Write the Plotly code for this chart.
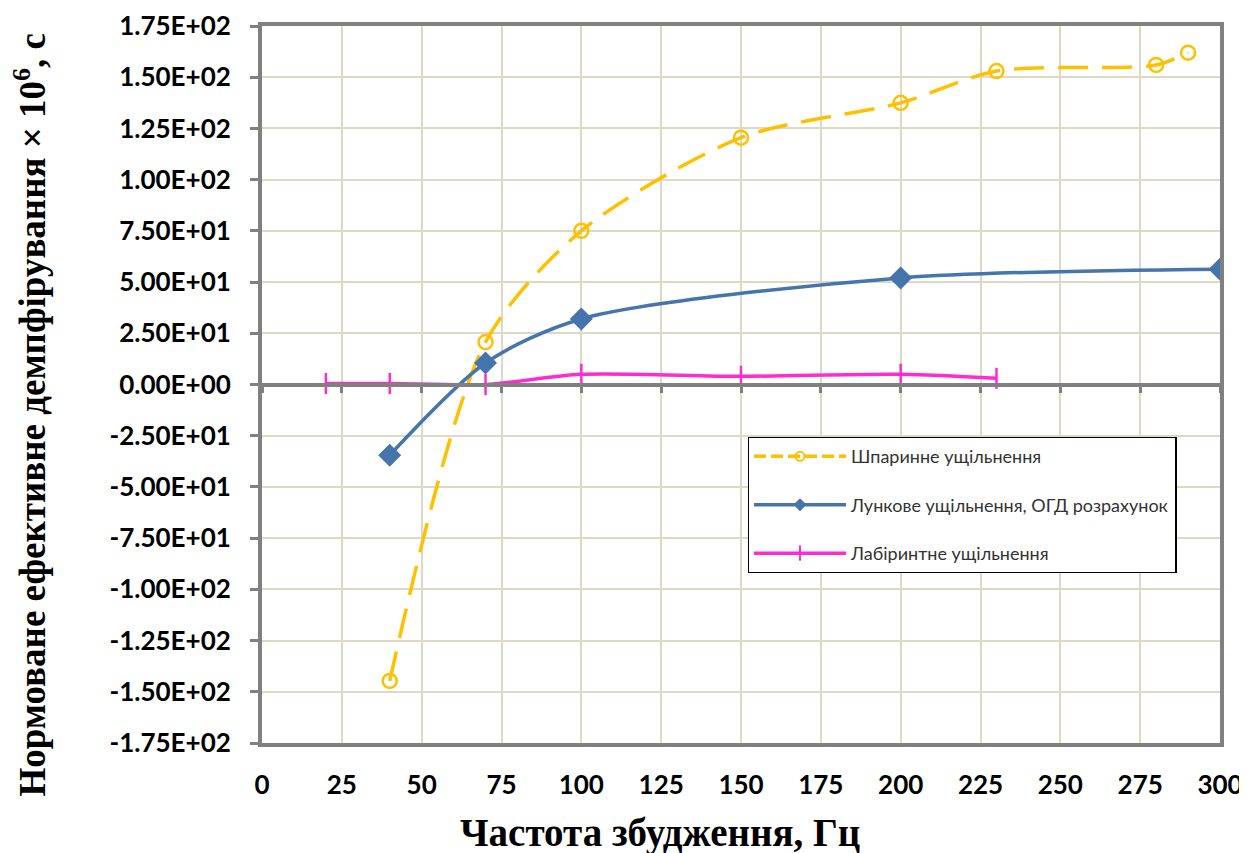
import plotly.graph_objects as go

# ---- data ----
x_slot = [40, 70, 100, 150, 200, 230, 280, 290]
y_slot = [-144.7, 20.7, 75.0, 120.5, 137.5, 153.0, 156.0, 162.0]

x_pit = [40, 70, 100, 200, 300]
y_pit = [-34.5, 10.5, 32.0, 52.0, 56.3]

x_lab = [20, 40, 70, 100, 150, 200, 230]
y_lab = [0.5, 0.5, 0.0, 5.0, 4.0, 5.0, 3.0]

name_slot = "Шпаринне ущільнення"
name_pit = "Лункове ущільнення, ОГД розрахунок"
name_lab = "Лабіринтне ущільнення"

x_ticks = list(range(0, 301, 25))
y_ticks = list(range(-175, 176, 25))
y_ticktext = [f"{v:.2E}" for v in y_ticks]

x_title = "Частота збудження, Гц"
y_title = "Нормоване ефективне демпфірування × 10<sup>6</sup>, с"

# ---- styles ----
ORANGE = "#FFC000"
BLUE = "#4674AC"
MAGENTA = "#FF2BD1"
GRID = "#ddd9c4"
AXIS = "#808080"
tick_font = dict(family="Lato, Open Sans, sans-serif", size=26, color="black", weight="bold")
serif = "Liberation Serif, Times New Roman, serif"

series = [
    (x_slot, y_slot, name_slot, ORANGE, "30px,14px", "circle-open", 14, 9),
    (x_pit, y_pit, name_pit, BLUE, "solid", "diamond", 15, 10),
    (x_lab, y_lab, name_lab, MAGENTA, "solid", "line-ns", 15, 11),
]

fig = go.Figure()
for i, (xs, ys, nm, col, dash, sym, msize, lsize) in enumerate(series):
    fig.add_trace(go.Scatter(
        x=xs, y=ys, name=nm, mode="lines+markers", showlegend=False,
        line=dict(color=col, width=3.5, dash=dash, shape="spline", smoothing=0.8),
        marker=dict(symbol=sym, size=msize, color=col, line=dict(width=2.5, color=col)),
    ))
for i, (xs, ys, nm, col, dash, sym, msize, lsize) in enumerate(series):
    # legend entries with smaller symbols (no data drawn)
    fig.add_trace(go.Scatter(
        x=[None], y=[None], name=nm, mode="lines+markers", legendgroup=f"g{i}",
        line=dict(color=col, width=3.5, dash=("12px,5px" if dash != "solid" else "solid")),
        marker=dict(symbol=sym, size=lsize, color=col,
                    line=dict(width=(2 if sym != "diamond" else 0), color=col)),
    ))
# helper trace for the x axis drawn through y = 0
fig.add_trace(go.Scatter(
    x=[x_ticks[0], x_ticks[-1]], y=[0, 0], xaxis="x2", mode="lines",
    line=dict(width=0), showlegend=False, hoverinfo="skip",
))

fig.update_layout(
    width=1239, height=845,
    paper_bgcolor="white", plot_bgcolor="white",
    margin=dict(l=254, r=27, t=18, b=110),
    xaxis=dict(
        range=[0, 300], tickvals=x_ticks, showgrid=True, gridcolor=GRID, gridwidth=1.5,
        showline=True, mirror=True, linecolor=AXIS, linewidth=4,
        ticks="", tickfont=tick_font, ticklabelstandoff=16, zeroline=False,
        automargin=False,
    ),
    xaxis2=dict(
        range=[0, 300], tickvals=x_ticks, overlaying="x", anchor="free", position=0.5,
        showgrid=False, showline=True, linecolor=AXIS, linewidth=3.5,
        ticks="outside", ticklen=7, tickwidth=3, tickcolor=AXIS, showticklabels=False,
        zeroline=False, automargin=False,
    ),
    yaxis=dict(
        range=[-175, 175], tickvals=y_ticks, ticktext=y_ticktext,
        showgrid=True, gridcolor=GRID, gridwidth=1.5,
        showline=True, mirror=True, linecolor=AXIS, linewidth=4,
        ticks="outside", ticklen=8, tickwidth=3, tickcolor=AXIS,
        tickfont=tick_font, ticklabelstandoff=14, zeroline=False, automargin=False,
    ),
    legend=dict(
        x=0.507, y=0.427, xanchor="left", yanchor="top",
        bgcolor="white", bordercolor="black", borderwidth=1.3,
        font=dict(family="Lato, Open Sans, sans-serif", size=18, color="#333333"),
        tracegroupgap=22, itemwidth=92, traceorder="grouped",
    ),
    showlegend=True,
    annotations=[
        dict(text=x_title, xref="paper", yref="paper", x=0.415, y=-0.125,
             showarrow=False, font=dict(family=serif, size=39, color="black", weight="bold"),
             xanchor="center", yanchor="middle"),
        dict(text=y_title, xref="paper", yref="paper", x=-0.242, y=0.457, textangle=-90,
             showarrow=False, font=dict(family=serif, size=37, color="black", weight="bold"),
             xanchor="center", yanchor="middle"),
    ],
)

fig.write_html("out.html")
